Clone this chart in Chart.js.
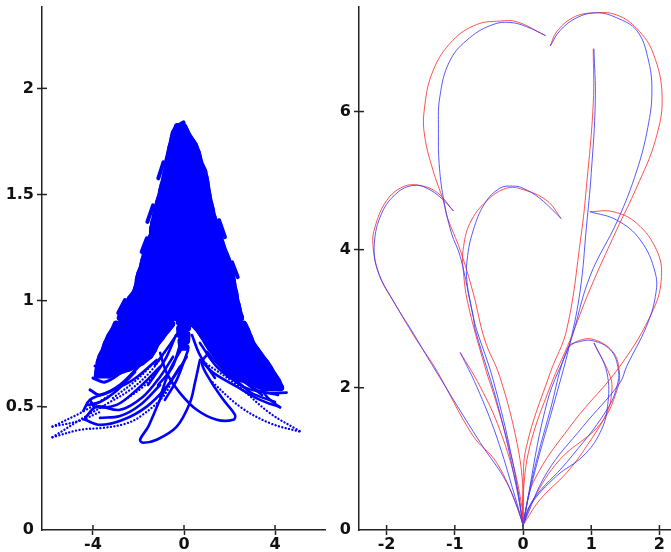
<!DOCTYPE html>
<html><head><meta charset="utf-8">
<script src="https://cdn.jsdelivr.net/npm/chart.js@4"></script>
<style>html,body{margin:0;padding:0;background:#fff;overflow:hidden}canvas{position:absolute;top:-6px}</style>
</head><body>
<canvas id="a" width="326" height="558" style="left:0"></canvas>
<canvas id="b" width="354" height="558" style="left:317px"></canvas>
<script>
// LEFT PANEL ---------------------------------------------------
const leftXTicks=[-4,0,4], leftXLabels=['-4','0','4'];
const leftYTicks=[-0.08,0.5,1,1.5,2], leftYLabels=['0','0.5','1','1.5','2'];
// body of the cloud: level, left edge, right edge
const bodyY=[1.82,1.79,1.76,1.73,1.70,1.67,1.64,1.61,1.58,1.55,1.52,1.49,1.46,1.43,1.40,1.37,1.34,1.31,1.28,1.25,1.22,1.19,1.16,1.13,1.10,1.07,1.04,1.01,0.98,0.95,0.92];
const bodyL=[-0.29,-0.43,-0.49,-0.56,-0.62,-0.69,-0.73,-0.78,-0.84,-0.91,-0.98,-1.04,-1.13,-1.20,-1.26,-1.33,-1.37,-1.39,-1.53,-1.64,-1.70,-1.77,-1.83,-1.94,-2.01,-2.05,-2.14,-2.36,-2.49,-2.67,-2.80];
const bodyR=[-0.01,0.12,0.29,0.47,0.58,0.65,0.73,0.87,0.93,0.98,1.02,1.07,1.13,1.20,1.26,1.35,1.44,1.57,1.61,1.70,1.81,1.92,2.01,2.07,2.12,2.16,2.23,2.27,2.34,2.40,2.49];
const wingLY=[0.89,0.86,0.83,0.80,0.77,0.74,0.71,0.68,0.65];
const wingLL=[-2.98,-3.11,-3.28,-3.41,-3.50,-3.64,-3.73,-3.77,-3.81];
const wingLR=[-0.54,-0.76,-0.98,-1.20,-1.33,-1.51,-1.86,-2.47,-3.31];
const wingRY=[0.89,0.86,0.83,0.80,0.77,0.74,0.71,0.68,0.65,0.62,0.59];
const wingRL=[0.41,0.67,0.85,1.02,1.20,1.42,1.64,1.82,1.99,2.83,3.57];
const wingRR=[2.62,2.76,2.87,2.98,3.17,3.37,3.59,3.77,3.94,4.12,4.25];
const coreY=[0.90,0.87,0.84,0.81,0.78];
const coreL=[-0.22,-0.20,-0.18,-0.14,-0.10];
const coreR=[0.18,0.16,0.14,0.12,0.10];
// solid strands
const crown=[[-0.02,1.84],[-0.29,1.82],[-0.01,1.82]];
const loopA=[[0.70,0.721],[0.48,0.613],[0.26,0.519],[-0.32,0.407],[-1.20,0.345],[-1.79,0.331],[-1.93,0.345],[-1.57,0.407],[-0.91,0.566],[-0.32,0.660],[0.12,0.736]];
const loopB=[[-1.05,0.754],[-0.76,0.660],[-0.18,0.566],[0.56,0.486],[1.44,0.439],[2.17,0.439],[2.24,0.462],[1.73,0.533],[1.14,0.627],[0.78,0.707],[1.00,0.744]];
const arcA=[[-4.43,0.481],[-4.13,0.533],[-3.40,0.566],[-2.24,0.627],[-1.20,0.721]];
const arcB=[[-4.35,0.439],[-3.69,0.415],[-2.68,0.439],[-1.64,0.501],[-0.76,0.595],[-0.18,0.689]];
const arcC=[[-4.35,0.447],[-3.84,0.501],[-2.81,0.486],[-1.80,0.548],[-1.05,0.642],[-0.48,0.736]];
const arcE=[[-4.13,0.533],[-3.91,0.501],[-2.96,0.509],[-1.93,0.595],[-1.05,0.689]];
const arcF=[[-4.22,0.509],[-3.69,0.523],[-3.03,0.570],[-2.15,0.664]];
const arcG=[[-3.69,0.448],[-2.81,0.457],[-1.93,0.509],[-1.05,0.603]];
const tuftF=[[-4.13,0.580],[-3.69,0.556],[-2.81,0.603],[-1.93,0.697]];
const tuftG=[[-4.0,0.636],[-3.47,0.617],[-2.59,0.674]];
const tuftH=[[-3.91,0.692],[-3.38,0.678],[-2.73,0.730]];
const arcR3=[[4.22,0.498],[3.34,0.533],[2.32,0.595],[1.29,0.660],[0.84,0.707]];
const arcR4=[[4.51,0.567],[3.64,0.566],[2.59,0.595],[1.73,0.674],[1.00,0.760]];
const arcR5=[[4.13,0.556],[3.20,0.580],[2.15,0.660]];
const arcR7=[[4.22,0.498],[3.69,0.542],[3.25,0.608]];
const arcR8=[[3.43,0.556],[2.46,0.636],[1.67,0.730]];
const arcR9=[[4.0,0.523],[2.90,0.570],[1.93,0.664]];
const strand1=[[0.12,0.815],[-0.62,0.674],[-1.05,0.547]];
const strand2=[[0.18,0.768],[-0.32,0.627],[-0.84,0.533]];
const strand3=[[0.48,0.876],[1.00,0.801],[1.88,0.736],[2.59,0.642]];
const strand4=[[0.70,0.801],[1.44,0.689],[2.59,0.595]];
const strand5=[[-0.18,0.862],[-0.62,0.792],[-1.27,0.697]];
const strand6=[[0.35,0.838],[0.70,0.744],[1.36,0.636]];
const strand7=[[-0.35,0.838],[-0.84,0.721],[-1.58,0.603]];
const strand8=[[-0.18,0.791],[-0.53,0.683],[-1.14,0.603]];
const spike1=[[-1.13,1.576],[-0.90,1.652]];
const spike2=[[-1.61,1.371],[-1.36,1.449]];
const spike3=[[-1.86,1.230],[-1.63,1.294]];
const spike4=[[1.80,1.299],[1.54,1.379]];
const spike5=[[2.36,1.111],[2.11,1.181]];
const spike6=[[-2.89,0.942],[-2.59,1.003]];
// sparse dotted strands
const tail1a=[[-5.78,0.407],[-4.43,0.478],[-3.25,0.556]];
const tail1b=[[-5.78,0.407],[-4.57,0.435],[-3.69,0.476]];
const tail2a=[[-5.78,0.357],[-4.43,0.448],[-3.47,0.509]];
const tail2b=[[-5.78,0.357],[-4.57,0.392],[-3.56,0.401],[-2.59,0.420],[-1.93,0.454],[-0.92,0.548],[-0.40,0.650]];
const tailR1=[[0.85,0.713],[2.32,0.603],[3.78,0.470],[5.17,0.381]];
const tailR2=[[1.14,0.627],[2.46,0.501],[3.78,0.423],[5.17,0.381]];
const hatch1=[[-3.12,0.542],[-2.08,0.627],[-1.20,0.721]];
const hatch2=[[-3.47,0.509],[-2.37,0.580],[-1.49,0.664],[-0.84,0.758]];
const hatch3=[[-2.59,0.533],[-1.71,0.603],[-1.05,0.689]];

// RIGHT PANEL ---------------------------------------------------
const rightXTicks=[-2,-1,0,1,2], rightXLabels=['-2','-1','0','1','2'];
const rightYTicks=[-0.06,2,4,6], rightYLabels=['0','2','4','6'];
const bigLeftBlue=[[0.33,7.10],[0.05,7.23],[-0.19,7.29],[-0.44,7.26],[-0.78,7.07],[-1.07,6.74],[-1.22,6.21],[-1.24,5.68],[-1.23,5.25],[-1.17,4.76],[-1.05,4.24],[-0.92,3.90],[-0.73,3.03],[-0.68,2.84],[-0.44,2.12],[-0.15,0.92],[0,0.01]];
const bigLeftRed=[[0.33,7.10],[-0.09,7.30],[-0.34,7.31],[-0.68,7.26],[-1.03,7.03],[-1.32,6.59],[-1.45,6.01],[-1.44,5.63],[-1.32,5.15],[-1.17,4.71],[-1.11,4.47],[-0.92,3.99],[-0.73,3.37],[-0.56,2.69],[-0.34,2.16],[-0.09,1.21],[0,0.53],[0,0.01]];
const bigRightBlue=[[0.40,6.95],[0.54,7.17],[0.79,7.36],[1.08,7.43],[1.37,7.36],[1.67,7.17],[1.83,6.78],[1.89,6.30],[1.83,5.77],[1.67,5.15],[1.39,4.43],[0.98,3.61],[0.69,2.65],[0.35,1.78],[0,0.01]];
const bigRightRed=[[0.40,6.95],[0.49,7.15],[0.73,7.36],[1.03,7.43],[1.37,7.40],[1.67,7.20],[1.91,6.84],[2.04,6.21],[1.94,5.58],[1.67,4.91],[1.37,4.28],[0.98,3.42],[0.69,2.69],[0.40,2.02],[0.10,1.15],[0,0.43],[0,0.01]];
const stemBlue=[[1.04,6.91],[1.06,6.16],[1.00,5.10],[0.93,4.33],[0.84,3.42],[0.69,2.65],[0.47,1.83],[0.22,0.96],[0.04,0.24],[0,0.01]];
const stemRed=[[1.03,6.91],[1.03,6.12],[0.93,4.91],[0.85,4.19],[0.64,2.84],[0.40,2.22],[0.05,1.15],[0,0.53],[0,0.01]];
const farLeftBlue=[[-1.02,4.56],[-1.19,4.74],[-1.41,4.89],[-1.61,4.93],[-1.85,4.82],[-2.07,4.53],[-2.18,4.09],[-2.13,3.70],[-1.91,3.27],[-1.61,2.79],[-1.32,2.31],[-0.63,1.21],[-0.24,0.63],[-0.04,0.14],[0,0.01]];
const farLeftRed=[[-1.02,4.56],[-1.25,4.82],[-1.51,4.93],[-1.76,4.91],[-2.00,4.71],[-2.17,4.33],[-2.20,4.06],[-2.10,3.61],[-1.85,3.17],[-1.56,2.69],[-1.29,2.29],[-0.73,1.30],[-0.39,0.92],[-0.09,0.29],[0,0.01]];
const midBlue=[[0.56,4.45],[0.25,4.74],[0,4.89],[-0.15,4.92],[-0.34,4.89],[-0.56,4.67],[-0.73,4.28],[-0.82,3.85],[-0.82,3.52],[-0.73,3.03],[-0.70,2.84],[-0.34,1.64],[-0.07,0.43],[0,0.01]];
const midRed=[[0.56,4.45],[0.35,4.71],[0,4.87],[-0.24,4.89],[-0.53,4.71],[-0.78,4.38],[-0.88,3.99],[-0.88,3.75],[-0.81,3.23],[-0.56,2.31],[-0.39,1.78],[-0.15,0.92],[-0.01,0.24],[0,0.01]];
const shortBlue=[[-0.92,2.51],[-0.68,2.02],[-0.39,1.30],[-0.12,0.43],[0,0.01]];
const shortRed=[[-0.92,2.51],[-0.63,2.02],[-0.34,1.39],[-0.09,0.57],[0,0.01]];
const lobeBlue=[[0.98,4.55],[1.37,4.43],[1.72,4.14],[1.94,3.66],[1.94,3.32],[1.81,2.89],[1.52,2.31],[1.42,2.07],[0.88,1.44],[0.35,0.77],[0,0.01]];
const lobeRed=[[0.98,4.55],[1.32,4.55],[1.67,4.38],[1.96,3.99],[2.03,3.61],[1.91,3.13],[1.42,2.31],[0.73,1.49],[0.15,0.63],[0,0.01]];
const tipBlue=[[1.04,2.65],[1.23,2.22],[1.24,1.73],[1.13,1.35],[0.88,1.01],[0.49,0.72],[0.10,0.29],[0,0.01]];
const tipRed=[[1.04,2.65],[1.28,2.16],[1.30,1.93],[1.23,1.64],[0.93,1.15],[0.64,0.77],[0.25,0.38],[0,0.01]];
const smallBlue=[[0,0.01],[0.13,0.67],[0.40,1.68],[0.66,2.58],[0.84,2.67],[1.03,2.68],[1.28,2.55],[1.39,2.31],[1.39,2.07],[1.23,1.68],[0.64,0.92],[0.15,0.38],[0,0.01]];
const smallRed=[[0.66,2.58],[0.81,2.68],[1.03,2.70],[1.31,2.53],[1.41,2.26],[1.38,1.97],[1.13,1.47],[0.54,0.96],[0.15,0.38],[0,0.01]];

const pts=a=>a.map(p=>({x:p[0],y:p[1]}));
function rows(ys,ls,rs){const o=[];ys.forEach((y,i)=>{const f=i%2===0;o.push({x:f?ls[i]:rs[i],y});o.push({x:f?rs[i]:ls[i],y});});return o;}
const BLUE='#0000ff';
const solid=(a,w)=>({data:pts(a),borderColor:BLUE,borderWidth:w||2.6,tension:0.35,pointRadius:0,showLine:true,borderCapStyle:'round'});
const dotted=a=>({data:pts(a),borderColor:BLUE,borderWidth:2.3,borderDash:[0.1,3.4],borderCapStyle:'round',tension:0.35,pointRadius:0,showLine:true});
const band=(ys,ls,rs)=>({data:rows(ys,ls,rs),borderColor:BLUE,borderWidth:6.8,tension:0,pointRadius:0,showLine:true,borderJoinStyle:'round',borderCapStyle:'round'});
const edge=(ys,xs)=>({data:ys.map((y,i)=>({x:xs[i],y})),borderColor:BLUE,borderWidth:6.8,tension:0,pointRadius:0,showLine:true,borderJoinStyle:'round',borderCapStyle:'round'});
const thin=(a,c)=>({data:pts(a),borderColor:c,borderWidth:1,tension:0.4,pointRadius:0,showLine:true});

const tipInner={id:'tipInner',afterDraw(c){const g=c.ctx;g.save();g.strokeStyle='#222';g.lineWidth=1.5;
  const xs=c.scales.x,ys=c.scales.y;
  xs.ticks.forEach(t=>{const p=xs.getPixelForValue(t.value);g.beginPath();g.moveTo(p,ys.bottom);g.lineTo(p,ys.bottom-5);g.stroke();});
  ys.ticks.forEach(t=>{if(t.value===ys.min)return;const p=ys.getPixelForValue(t.value);g.beginPath();g.moveTo(xs.left,p);g.lineTo(xs.left+5,p);g.stroke();});
  g.restore();}};
const font={family:'"DejaVu Sans"',size:16,weight:'bold'};
function axis(min,max,vals,labs,pad,size,isY){return {type:'linear',min,max,position:isY?'left':'bottom',
  afterBuildTicks:a=>{a.ticks=vals.map(value=>({value}));},
  afterFit:a=>{if(isY)a.width=size;else a.height=size;},
  grid:{drawOnChartArea:false,drawTicks:true,tickLength:5,tickWidth:1.5,tickColor:c=>(isY&&c.tick&&c.tick.value===min)?'rgba(0,0,0,0)':'#222'},
  border:{color:'#222',width:1.5},
  ticks:{font,color:'#111',padding:pad,autoSkip:false,maxRotation:0,includeBounds:false,callback:v=>{const i=vals.indexOf(v);return i<0?'':labs[i];}}};}
function make(id,datasets,x,y){return new Chart(document.getElementById(id),{type:'scatter',data:{datasets},plugins:[tipInner],
  options:{responsive:false,animation:false,events:[],layout:{autoPadding:false,padding:0},
    plugins:{legend:{display:false},tooltip:{enabled:false}},scales:{x,y}}});}

make('a',[
  band(bodyY,bodyL,bodyR),edge(bodyY,bodyL),edge(bodyY,bodyR),band(wingLY,wingLL,wingLR),edge(wingLY,wingLL),edge(wingLY,wingLR),band(wingRY,wingRL,wingRR),edge(wingRY,wingRL),edge(wingRY,wingRR),band(coreY,coreL,coreR),
  solid(crown,4),solid(loopA),solid(loopB),solid(arcA),solid(arcB),solid(arcC),solid(arcE),solid(arcF),solid(arcG),solid(tuftF,3),solid(tuftG,3),solid(tuftH,3),
  solid(arcR3),solid(arcR4),solid(arcR5),solid(arcR7),solid(arcR8),solid(arcR9),solid(strand1),solid(strand2),solid(strand3),solid(strand4),solid(strand5),solid(strand6),solid(strand7),solid(strand8),
  solid(spike1,4),solid(spike2,4),solid(spike3,4),solid(spike4,4),solid(spike5,4),solid(spike6,4),
  dotted(tail1a),dotted(tail1b),dotted(tail2a),dotted(tail2b),dotted(tailR1),dotted(tailR2),dotted(hatch1),dotted(hatch2),dotted(hatch3)
],axis(-6.24,6.24,leftXTicks,leftXLabels,0,22,false),axis(-0.08,2.385,leftYTicks,leftYLabels,3,42,true));

const BL='rgba(60,60,255,0.85)',RD='rgba(255,50,50,0.85)';
make('b',[
  thin(bigLeftBlue,BL),thin(bigLeftRed,RD),thin(bigRightBlue,BL),thin(bigRightRed,RD),thin(stemBlue,BL),thin(stemRed,RD),
  thin(farLeftBlue,BL),thin(farLeftRed,RD),thin(midBlue,BL),thin(midRed,RD),thin(shortBlue,BL),thin(shortRed,RD),
  thin(lobeBlue,BL),thin(lobeRed,RD),thin(tipBlue,BL),thin(tipRed,RD),thin(smallBlue,BL),thin(smallRed,RD)
],axis(-2.405,2.17,rightXTicks,rightXLabels,0,22,false),axis(-0.06,7.52,rightYTicks,rightYLabels,3,42,true));
</script>
</body></html>
